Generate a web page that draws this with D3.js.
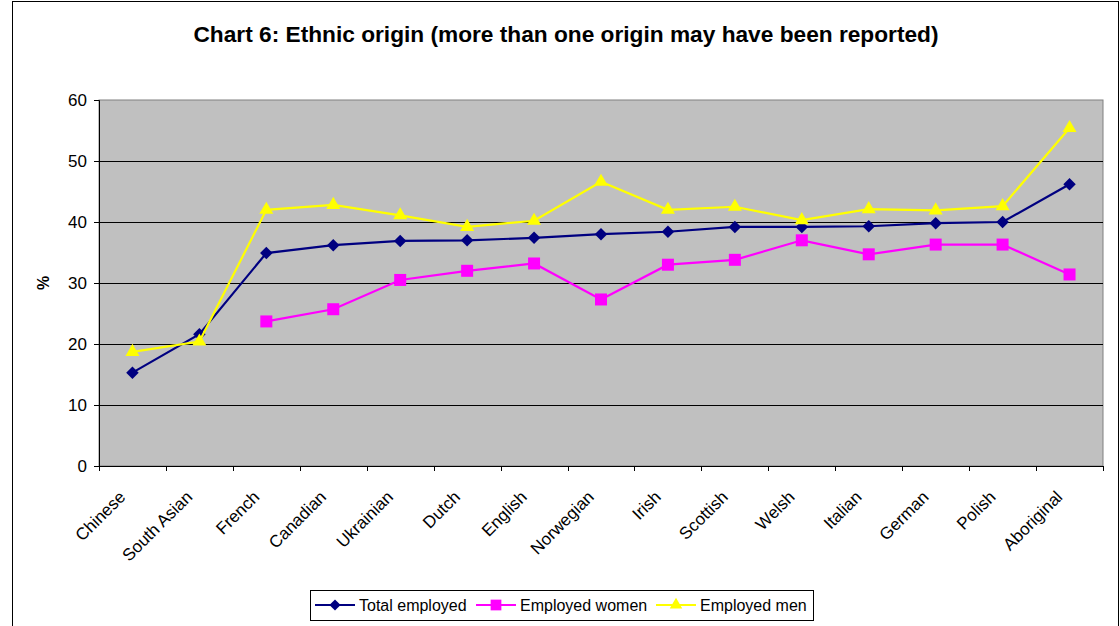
<!DOCTYPE html>
<html>
<head>
<meta charset="utf-8">
<script src="https://d3js.org/d3.v7.min.js"></script>
<style>
  body { margin: 0; background: #ffffff; }
  text { font-family: Arial, "Liberation Sans", Helvetica, sans-serif; }
</style>
</head>
<body onload="onbodyload()">
<svg width="1120" height="626"></svg>
<script>
const categories = ['Chinese', 'South Asian', 'French', 'Canadian', 'Ukrainian', 'Dutch', 'English',
    'Norwegian', 'Irish', 'Scottish', 'Welsh', 'Italian', 'German', 'Polish', 'Aboriginal'];
const totalEmployed = [15.3, 21.6, 34.9, 36.2, 36.9, 37.0, 37.4, 38.0, 38.4, 39.2, 39.2, 39.3, 39.8, 40.0, 46.2];
const employedWomen = [null, null, 23.7, 25.7, 30.5, 32.0, 33.2, 27.3, 33.0, 33.8, 37.0, 34.7, 36.3, 36.3, 31.4];
const employedMen = [18.7, 20.4, 42.0, 42.8, 41.1, 39.2, 40.2, 46.6, 42.0, 42.5, 40.3, 42.1, 41.9, 42.6, 55.4];
const yTicks = [0, 10, 20, 30, 40, 50, 60];

// diamond = square turned 45 degrees
const series = [
    {name: 'Total employed', values: totalEmployed, color: '#000080', symbol: d3.symbolSquare, size: 78, rotate: 45},
    {name: 'Employed women', values: employedWomen, color: '#FF00FF', symbol: d3.symbolSquare, size: 144, rotate: 0},
    {name: 'Employed men', values: employedMen, color: '#FFFF00', symbol: d3.symbolTriangle, size: 85, rotate: 0}
];

function onbodyload(){
    var svg = d3.select("svg");
    var plot = {left: 99, top: 100, right: 1103, bottom: 466};

    // outer chart border
    svg.append("rect")
        .attr("x", 12.5).attr("y", 1.5)
        .attr("width", 1106).attr("height", 640)
        .attr("fill", "#ffffff")
        .attr("stroke", "#000000")
        .attr("stroke-width", 1);

    // Title
    svg.append('text')
        .attr('x', 566)
        .attr('y', 42)
        .attr('text-anchor', 'middle')
        .style('font-size', '22.7px')
        .style('font-weight', 'bold')
        .text('Chart 6: Ethnic origin (more than one origin may have been reported)');

    var xScale = d3.scaleBand().domain(categories).range([plot.left, plot.right]);
    var yScale = d3.scaleLinear().domain([0, 60]).range([plot.bottom, plot.top]);

    svg.append("rect")
        .attr("x", plot.left).attr("y", plot.top)
        .attr("width", plot.right - plot.left).attr("height", plot.bottom - plot.top)
        .attr("fill", "#C0C0C0")
        .attr("stroke", "#808080")
        .attr("stroke-width", 1);

    // gridlines
    svg.append("g")
        .selectAll("line")
        .data(yTicks.filter(function(d){ return d > 0 && d < 60; }))
        .enter()
        .append("line")
        .attr("x1", plot.left).attr("x2", plot.right)
        .attr("y1", function(d){ return Math.round(yScale(d)) + 0.5; })
        .attr("y2", function(d){ return Math.round(yScale(d)) + 0.5; })
        .attr("stroke", "#000000")
        .attr("stroke-width", 1);

    // y axis
    var yAxis = svg.append("g")
        .attr("transform", "translate(" + plot.left + ",0)")
        .call(d3.axisLeft(yScale).tickValues(yTicks).tickSize(5).tickPadding(7));
    yAxis.select(".domain").attr("stroke", "#000000");
    yAxis.selectAll("text").style("font-size", "17px").style("font-family", "Arial, 'Liberation Sans', sans-serif").attr("fill", "#000");

    // x axis, ticks on category boundaries
    var xAxis = svg.append("g")
        .attr("transform", "translate(0," + plot.bottom + ")");
    xAxis.append("line")
        .attr("x1", plot.left).attr("x2", plot.right)
        .attr("y1", 0.5).attr("y2", 0.5)
        .attr("stroke", "#000000");
    var bounds = categories.map(function(c){ return xScale(c); }).concat([plot.right]);
    xAxis.selectAll(".tk")
        .data(bounds)
        .enter()
        .append("line")
        .attr("class", "tk")
        .attr("x1", function(d){ return Math.round(d) + 0.5; })
        .attr("x2", function(d){ return Math.round(d) + 0.5; })
        .attr("y1", 0).attr("y2", 5)
        .attr("stroke", "#000000");
    xAxis.selectAll(".lbl")
        .data(categories)
        .enter()
        .append("text")
        .attr("class", "lbl")
        .attr("text-anchor", "end")
        .attr("transform", function(d){
            var x = xScale(d) + xScale.bandwidth() / 2 - 6;
            return "translate(" + x + ",32)rotate(-45)";
        })
        .style("font-size", "17px")
        .text(function(d){ return d; });

    // Y label
    svg.append('text')
        .attr('transform', 'translate(49,283)rotate(-90)')
        .attr('text-anchor', 'middle')
        .style('font-size', '16px')
        .style('font-weight', 'bold')
        .text('%');

    // lines + markers
    for(const s of series){
        var line = d3.line()
            .defined(function(d){ return d != null; })
            .x(function(d, i){ return xScale(categories[i]) + xScale.bandwidth() / 2; })
            .y(function(d){ return yScale(d); });

        svg.append("path")
            .datum(s.values)
            .attr("d", line)
            .attr("fill", "none")
            .attr("stroke", s.color)
            .attr("stroke-width", 2.2);

        svg.append("g")
            .selectAll("path")
            .data(s.values.map(function(v, i){ return {v: v, c: categories[i]}; }).filter(function(d){ return d.v != null; }))
            .enter()
            .append("path")
            .attr("transform", function(d){
                return "translate(" + (xScale(d.c) + xScale.bandwidth() / 2) + "," + yScale(d.v) + ")rotate(" + s.rotate + ")";
            })
            .attr("d", d3.symbol().type(s.symbol).size(s.size))
            .attr("fill", s.color);
    }

    drawLegend(svg);
}

function drawLegend(svg){
    var legend = svg.append("g");
    legend.append("rect")
        .attr("x", 310.5).attr("y", 590.5)
        .attr("width", 503).attr("height", 30)
        .attr("fill", "#ffffff")
        .attr("stroke", "#000000");

    var starts = [315, 476, 656];
    series.forEach(function(s, i){
        var x0 = starts[i];
        legend.append("line")
            .attr("x1", x0).attr("x2", x0 + 40)
            .attr("y1", 605).attr("y2", 605)
            .attr("stroke", s.color)
            .attr("stroke-width", 2);
        legend.append("path")
            .attr("transform", "translate(" + (x0 + 20) + ",605)rotate(" + s.rotate + ")")
            .attr("d", d3.symbol().type(s.symbol).size(s.size * 0.8))
            .attr("fill", s.color);
        legend.append("text")
            .attr("x", x0 + 44)
            .attr("y", 611)
            .style("font-size", "16px")
            .text(s.name);
    });
}
</script>
</body>
</html>
